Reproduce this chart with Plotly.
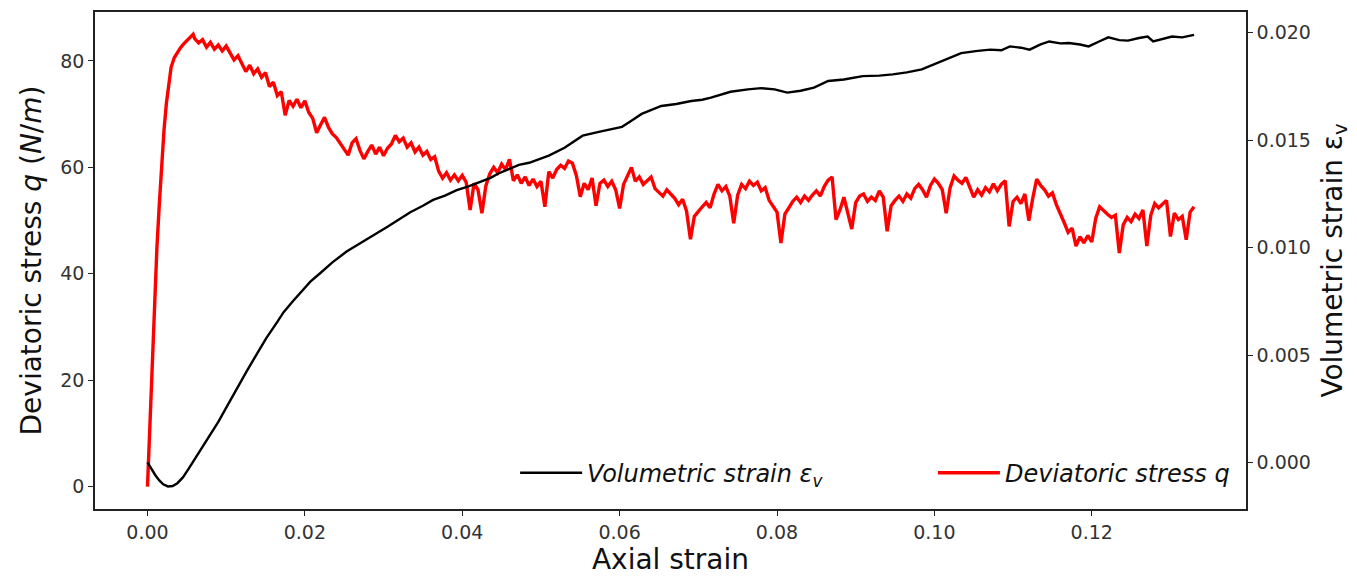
import plotly.graph_objects as go

# ---- Deviatoric stress q (N/m) vs axial strain ----
strain_q = [
    0.0000, 0.0003, 0.0006, 0.0009, 0.0012, 0.0015, 0.0018, 0.0021, 0.0024, 0.0027,
    0.0030, 0.0034, 0.0038, 0.0042, 0.0046, 0.0050, 0.0054, 0.0058,
    0.0060, 0.0065, 0.0070, 0.0075, 0.0080, 0.0085, 0.0090, 0.0095, 0.0100, 0.0105,
    0.0110, 0.0115, 0.0120, 0.0125, 0.0130, 0.0135, 0.0140, 0.0145, 0.0150, 0.0155,
    0.0160, 0.0165, 0.0170, 0.0175, 0.0180, 0.0185, 0.0190, 0.0195, 0.0200, 0.0205,
    0.0210, 0.0215, 0.0220, 0.0225, 0.0230, 0.0235, 0.0240, 0.0245, 0.0250, 0.0255,
    0.0260, 0.0265, 0.0270, 0.0275, 0.0280, 0.0285, 0.0290, 0.0295, 0.0300, 0.0305,
    0.0310, 0.0315, 0.0320, 0.0325, 0.0330, 0.0335, 0.0340, 0.0345, 0.0350, 0.0355,
    0.0360, 0.0365, 0.0370, 0.0375, 0.0380, 0.0385, 0.0390, 0.0395, 0.0400, 0.0405,
    0.0410, 0.0415, 0.0420, 0.0425, 0.0430, 0.0435, 0.0440, 0.0445, 0.0450, 0.0455,
    0.0460, 0.0465, 0.0470, 0.0475, 0.0480, 0.0485, 0.0490, 0.0495, 0.0500, 0.0505,
    0.0510, 0.0515, 0.0520, 0.0525, 0.0530, 0.0535, 0.0540, 0.0545, 0.0550, 0.0555,
    0.0560, 0.0565, 0.0570, 0.0575, 0.0580, 0.0585, 0.0590, 0.0595, 0.0600, 0.0605,
    0.0610, 0.0615, 0.0620, 0.0625, 0.0630, 0.0635, 0.0640, 0.0645, 0.0650, 0.0655,
    0.0660, 0.0665, 0.0670, 0.0675, 0.0680, 0.0685, 0.0690, 0.0695, 0.0700, 0.0705,
    0.0710, 0.0715, 0.0720, 0.0725, 0.0730, 0.0735, 0.0740, 0.0745, 0.0750, 0.0755,
    0.0760, 0.0765, 0.0770, 0.0775, 0.0780, 0.0785, 0.0790, 0.0795, 0.0800, 0.0805,
    0.0810, 0.0815, 0.0820, 0.0825, 0.0830, 0.0835, 0.0840, 0.0845, 0.0850, 0.0855,
    0.0860, 0.0865, 0.0870, 0.0875, 0.0880, 0.0885, 0.0890, 0.0895, 0.0900, 0.0905,
    0.0910, 0.0915, 0.0920, 0.0925, 0.0930, 0.0935, 0.0940, 0.0945, 0.0950, 0.0955,
    0.0960, 0.0965, 0.0970, 0.0975, 0.0980, 0.0985, 0.0990, 0.0995, 0.1000, 0.1005,
    0.1010, 0.1015, 0.1020, 0.1025, 0.1030, 0.1035, 0.1040, 0.1045, 0.1050, 0.1055,
    0.1060, 0.1065, 0.1070, 0.1075, 0.1080, 0.1085, 0.1090, 0.1095, 0.1100, 0.1105,
    0.1110, 0.1115, 0.1120, 0.1125, 0.1130, 0.1135, 0.1140, 0.1145, 0.1150, 0.1155,
    0.1160, 0.1165, 0.1170, 0.1175, 0.1180, 0.1185, 0.1190, 0.1195, 0.1200, 0.1205,
    0.1210, 0.1215, 0.1220, 0.1225, 0.1230, 0.1235, 0.1240, 0.1245, 0.1250, 0.1255,
    0.1260, 0.1265, 0.1270, 0.1275, 0.1280, 0.1285, 0.1290, 0.1295, 0.1300, 0.1305,
    0.1310, 0.1315, 0.1320, 0.1325, 0.1330,
]
stress_q = [
    0.0, 12.0, 24.0, 35.0, 45.0, 53.0, 61.0, 67.0, 72.0, 76.0,
    78.8, 80.6, 81.6, 82.5, 83.2, 83.8, 84.6, 85.0,
    84.2, 83.4, 84.0, 82.6, 83.5, 82.2, 83.0, 81.9, 82.8, 81.6,
    80.2, 81.0, 79.4, 78.0, 79.2, 77.6, 78.5, 76.9, 77.8, 75.2,
    76.0, 73.5, 74.2, 69.8, 72.6, 71.5, 72.8, 71.2, 72.5, 70.3,
    69.2, 66.5, 68.0, 69.4, 67.5, 66.3, 65.6, 64.4, 63.2, 62.3,
    64.6, 65.4, 63.2, 61.6, 63.0, 64.2, 62.5, 63.8, 62.2, 63.6,
    64.4, 66.0, 64.8, 65.5, 63.8, 64.6, 62.9, 63.8, 62.3, 63.0,
    61.5, 62.0, 59.3, 58.0, 59.0, 57.6, 58.6, 57.5, 58.5, 57.2,
    52.0, 57.0, 55.8, 51.4, 56.5, 58.8, 60.0, 59.0, 60.6, 59.6,
    61.5, 57.5, 58.6, 57.0, 58.2, 56.6, 57.8, 56.4, 57.4, 52.6,
    59.2, 58.0, 59.6, 60.4, 59.8, 61.2, 60.8, 58.5, 54.5, 57.0,
    55.8, 58.0, 52.8, 57.0, 57.6, 56.4, 57.4, 55.8, 52.3, 56.8,
    58.4, 60.0, 57.4, 58.2, 56.8, 57.6, 58.2, 56.0, 55.4, 54.6,
    55.8, 55.0, 54.2, 53.0, 54.0, 51.8, 46.5, 50.8, 51.8, 52.6,
    53.4, 52.4, 55.0, 56.8, 55.6, 56.4, 54.6, 49.5, 54.8, 56.8,
    56.0, 57.4, 56.6, 57.2, 55.6, 56.2, 53.8, 52.6, 51.6, 45.8,
    51.2, 52.4, 53.6, 54.4, 53.4, 54.6, 53.8, 54.8, 55.6, 54.6,
    56.4, 57.6, 58.2, 50.2, 52.0, 54.4, 51.6, 48.4, 53.4, 54.6,
    55.0, 53.6, 54.4, 53.8, 55.6, 54.4, 48.0, 52.8, 53.8, 54.6,
    53.6, 55.0, 54.2, 56.0, 56.8, 55.8, 54.4, 56.6, 57.8, 57.0,
    55.8, 51.4, 56.2, 58.4, 57.6, 57.0, 58.1, 56.4, 54.4, 55.8,
    54.8, 56.2, 55.4, 56.9, 55.6, 56.8, 57.5, 48.9, 53.6, 54.4,
    53.2, 55.0, 50.0, 54.2, 57.8, 56.6, 55.8, 54.6, 55.2, 53.0,
    51.4, 49.6, 47.8, 48.6, 45.2, 47.0, 45.8, 47.2, 46.0, 50.4,
    52.6, 51.8, 51.2, 50.6, 51.0, 43.9, 49.2, 50.6, 49.8, 51.2,
    50.4, 52.0, 45.2, 51.0, 53.2, 52.4, 53.0, 53.8, 47.0, 51.4,
    50.2, 50.8, 46.4, 51.6, 52.6,
]

# ---- Volumetric strain vs axial strain ----
strain_v = [
    0.0000, 0.0005, 0.0010, 0.0015, 0.0020, 0.0026, 0.0032, 0.0038, 0.0045, 0.0052,
    0.0060, 0.0075, 0.0090, 0.0101, 0.0115, 0.0126, 0.0140, 0.0151, 0.0165, 0.0173,
    0.0185, 0.0194, 0.0207, 0.0219, 0.0235, 0.0253, 0.0266, 0.0279, 0.0292, 0.0304,
    0.0320, 0.0334, 0.0350, 0.0363, 0.0378, 0.0393, 0.0408, 0.0423, 0.0436, 0.0446,
    0.0457, 0.0472, 0.0485, 0.0497, 0.0510, 0.0530, 0.0553, 0.0575, 0.0603, 0.0615,
    0.0628, 0.0653, 0.0672, 0.0691, 0.0705, 0.0716, 0.0741, 0.0763, 0.0780, 0.0797,
    0.0813, 0.0830, 0.0847, 0.0865, 0.0885, 0.0909, 0.0930, 0.0947, 0.0965, 0.0984,
    0.1009, 0.1034, 0.1055, 0.1071, 0.1085, 0.1096, 0.1110, 0.1121, 0.1135, 0.1146,
    0.1160, 0.1171, 0.1185, 0.1196, 0.1210, 0.1221, 0.1235, 0.1246, 0.1260, 0.1271,
    0.1278, 0.1290, 0.1302, 0.1315, 0.1330,
]
vol_strain = [
    0.00002, -0.00030, -0.00058, -0.00082, -0.00100, -0.00110, -0.00108, -0.00095, -0.00068, -0.00030,
    0.00016, 0.00100, 0.00190, 0.00262, 0.00355, 0.00425, 0.00512, 0.00580, 0.00655, 0.00700,
    0.00752, 0.00790, 0.00842, 0.00880, 0.00932, 0.00982, 0.01010, 0.01038, 0.01070, 0.01095,
    0.01132, 0.01165, 0.01195, 0.01222, 0.01242, 0.01268, 0.01285, 0.01305, 0.01325, 0.01345,
    0.01362, 0.01385, 0.01395, 0.01412, 0.01428, 0.01465, 0.01521, 0.01540, 0.01562, 0.01590,
    0.01622, 0.01659, 0.01668, 0.01682, 0.01688, 0.01698, 0.01725, 0.01736, 0.01742, 0.01736,
    0.01721, 0.01730, 0.01744, 0.01775, 0.01782, 0.01798, 0.01800, 0.01806, 0.01815, 0.01829,
    0.01867, 0.01905, 0.01915, 0.01921, 0.01918, 0.01936, 0.01930, 0.01921, 0.01945, 0.01959,
    0.01950, 0.01952, 0.01945, 0.01936, 0.01960, 0.01978, 0.01965, 0.01963, 0.01975, 0.01982,
    0.01959, 0.01972, 0.01982, 0.01978, 0.01990,
]

x_ticks = [0.00, 0.02, 0.04, 0.06, 0.08, 0.10, 0.12]
q_ticks = [0, 20, 40, 60, 80]
v_ticks = [0.000, 0.005, 0.010, 0.015, 0.020]

FONT = "DejaVu Sans"
TICK_COL = "#333333"
AX_COL = "#222222"
TITLE_COL = "#111111"

fig = go.Figure()
fig.add_trace(go.Scatter(
    x=strain_q, y=stress_q, mode="lines", yaxis="y",
    line=dict(color="#ff0000", width=3.4),
    name="<i>Deviatoric stress q</i>", legend="legend2",
))
fig.add_trace(go.Scatter(
    x=strain_v, y=vol_strain, mode="lines", yaxis="y2",
    line=dict(color="#000000", width=2.4),
    name="<i>Volumetric strain ε<sub>v</sub></i>", legend="legend",
))

legend_common = dict(
    orientation="h", yanchor="middle", xanchor="left", y=0.072,
    bgcolor="rgba(0,0,0,0)", font=dict(size=24, color=TITLE_COL, family=FONT),
    itemwidth=62,
)

fig.update_layout(
    width=1357, height=578,
    margin=dict(l=95, r=111, t=10, b=67),
    paper_bgcolor="white", plot_bgcolor="white",
    font=dict(family=FONT, color=TICK_COL),
    showlegend=True,
    legend=dict(x=0.365, **legend_common),
    legend2=dict(x=0.728, **legend_common),
    xaxis=dict(
        range=[-0.00667, 0.1396], tickvals=x_ticks, tickformat=".2f",
        showgrid=False, zeroline=False, showline=True, linecolor=AX_COL, linewidth=1.5,
        mirror=True, ticks="outside", ticklen=5, tickcolor=AX_COL,
        tickfont=dict(size=19, color=TICK_COL),
        title=dict(text="Axial strain", font=dict(size=28, color=TITLE_COL), standoff=6),
    ),
    yaxis=dict(
        range=[-4.2, 89.2], tickvals=q_ticks,
        showgrid=False, zeroline=False, showline=True, linecolor=AX_COL, linewidth=1.5,
        ticks="outside", ticklen=5, tickcolor=AX_COL,
        tickfont=dict(size=19, color=TICK_COL),
        title=dict(text="Deviatoric stress <i>q</i> (<i>N</i>/<i>m</i>)",
                   font=dict(size=28, color=TITLE_COL), standoff=10),
    ),
    yaxis2=dict(
        range=[-0.00215, 0.02096], tickvals=v_ticks, tickformat=".3f",
        overlaying="y", side="right",
        showgrid=False, zeroline=False, showline=True, linecolor=AX_COL, linewidth=1.5,
        ticks="outside", ticklen=5, tickcolor=AX_COL,
        tickfont=dict(size=19, color=TICK_COL),
        title=dict(text="Volumetric strain ε<sub>v</sub>",
                   font=dict(size=28, color=TITLE_COL), standoff=12),
    ),
)

fig.write_html("out.html")
